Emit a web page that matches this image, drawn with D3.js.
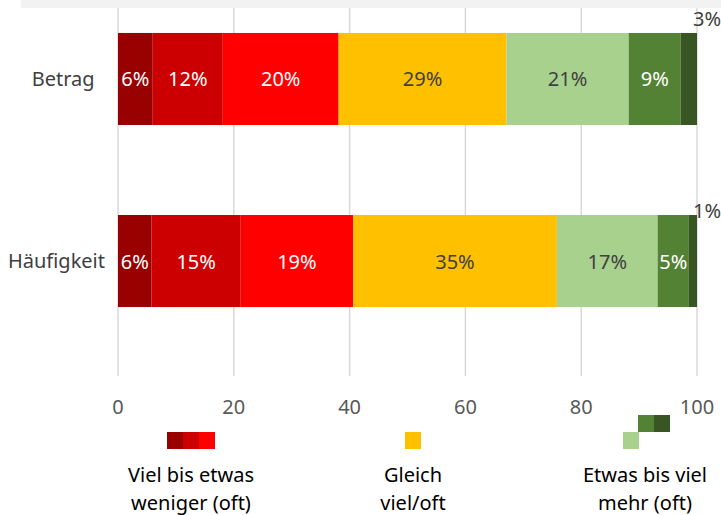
<!DOCTYPE html>
<html>
<head>
<meta charset="utf-8">
<script src="https://cdn.jsdelivr.net/npm/d3@7"></script>
<style>
  body { margin: 0; background: #fff; }
  svg { font-family: "Noto Sans", "Open Sans", sans-serif; }
</style>
</head>
<body>
<div id="chart"></div>
<script>
// categories (trailing nbsp keeps Betrag a little left, as in the source)
const categories = ["Betrag\u00a0\u00a0", "Häufigkeit"];
const seriesNames = ["Viel weniger", "Weniger", "Etwas weniger", "Gleich", "Etwas mehr", "Mehr", "Viel mehr"];
const seriesColors = ["#990000", "#cc0000", "#ff0000", "#ffc000", "#a9d18e", "#548235", "#375623"];
const betragValues = [6.0, 12.1, 20.0, 29.0, 21.1, 9.0, 2.8];
const haeufigkeitValues = [5.8, 15.4, 19.4, 35.2, 17.4, 5.4, 1.4];
const labelColors = ["#fff", "#fff", "#fff", "#404040", "#404040", "#fff", "#404040"];
const xTicks = [0, 20, 40, 60, 80, 100];
const legendGroups = [
  { lines: ["Viel bis etwas", "weniger (oft)"], series: [0, 1, 2] },
  { lines: ["Gleich", "viel/oft"], series: [3] },
  { lines: ["Etwas bis viel", "mehr (oft)"], series: [4, 5, 6] }
];

const W = 721, H = 515;
const FS = "20px";
const svg = d3.select("#chart").append("svg")
  .attr("width", W).attr("height", H);

// top grey band of the slide
svg.append("rect").attr("x", 21).attr("y", 0).attr("width", W - 21).attr("height", 8)
  .attr("fill", "#f2f2f2");

const x = d3.scaleLinear().domain([0, 100]).range([118, 697]);
const y = d3.scaleBand().domain(categories).range([-12, 352]).paddingInner(0.4945).paddingOuter(0.247);

// grid
svg.append("g").selectAll("line").data(xTicks).join("line")
  .attr("x1", d => x(d)).attr("x2", d => x(d))
  .attr("y1", 8).attr("y2", 376)
  .attr("stroke", "#d9d9d9").attr("stroke-width", 1.5);

// x tick labels
svg.append("g").selectAll("text").data(xTicks).join("text")
  .attr("x", d => x(d)).attr("y", 414)
  .attr("text-anchor", "middle")
  .attr("fill", "#595959").style("font-size", FS)
  .text(d => d);

// y labels
svg.append("g").selectAll("text").data(categories).join("text")
  .attr("x", x(0) - 13).attr("y", d => y(d) + y.bandwidth() / 2 + 7)
  .attr("text-anchor", "end")
  .attr("fill", "#404040").style("font-size", FS)
  .style("white-space", "pre")
  .text(d => d);

// outside label offset above the bar (Excel places them differently per row)
const rows = [
  { cat: categories[0], values: betragValues, outY: -7 },
  { cat: categories[1], values: haeufigkeitValues, outY: 3 }
];

rows.forEach(row => {
  let acc = 0;
  const segs = row.values.map((v, i) => {
    const s = { i, v, x0: acc, x1: acc + v };
    acc += v;
    return s;
  });
  const g = svg.append("g");
  g.selectAll("rect").data(segs).join("rect")
    .attr("x", d => x(d.x0))
    .attr("y", y(row.cat))
    .attr("width", d => x(d.x1) - x(d.x0))
    .attr("height", y.bandwidth())
    .attr("fill", d => seriesColors[d.i]);

  g.selectAll("text").data(segs).join("text")
    .attr("x", d => d.v < 4 ? x(d.x1) - 4 : (x(d.x0) + x(d.x1)) / 2)
    .attr("y", d => d.v < 4 ? y(row.cat) + row.outY : y(row.cat) + y.bandwidth() / 2 + 7.5)
    .attr("text-anchor", d => d.v < 4 ? "start" : "middle")
    .attr("fill", d => d.v < 4 ? "#404040" : labelColors[d.i])
    .style("font-size", FS)
    .text(d => Math.round(d.v) + "%");
});

// legend
const legendCenters = [191, 413, 645];
const sq = 16;
legendGroups.forEach((lg, gi) => {
  const g = svg.append("g");
  const cx = legendCenters[gi];
  let boxes;
  if (gi === 2) {
    boxes = [
      { s: 4, x: cx - 22, y: 432 },
      { s: 5, x: cx - 7, y: 415 },
      { s: 6, x: cx + 9, y: 415 }
    ];
  } else {
    const n = lg.series.length;
    boxes = lg.series.map((s, k) => ({ s, x: n === 1 ? cx - 8 : cx - 24 + k * sq, y: 432 }));
  }
  g.selectAll("rect").data(boxes).join("rect")
    .attr("x", d => d.x).attr("y", d => d.y)
    .attr("width", sq).attr("height", 17)
    .attr("fill", d => seriesColors[d.s]);
  g.selectAll("text").data(lg.lines).join("text")
    .attr("x", cx).attr("y", (d, i) => 482 + i * 28)
    .attr("text-anchor", "middle")
    .attr("fill", "#000").style("font-size", FS)
    .text(d => d);
});
</script>
</body>
</html>
